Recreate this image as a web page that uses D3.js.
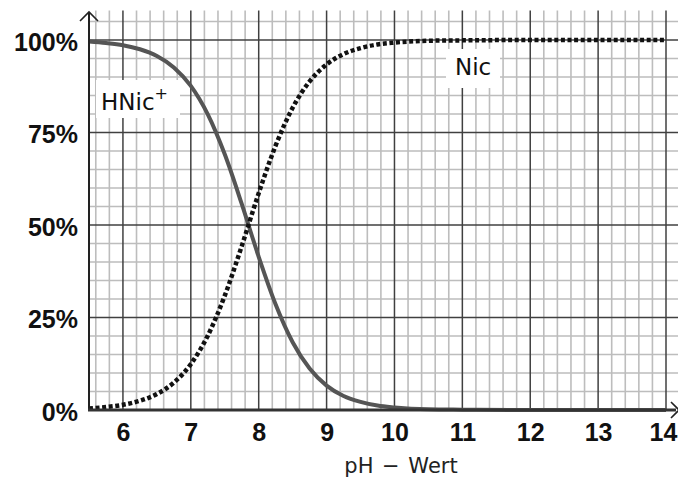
<!DOCTYPE html>
<html><head><meta charset="utf-8">
<script src="https://cdn.jsdelivr.net/npm/d3@7"></script>
<style>
html,body{margin:0;padding:0;background:#fff;}
svg{display:block;}
</style></head>
<body>
<svg id="chart" width="678" height="477"></svg>
<script>
// ---- data ----
const pHValues = [5.5,5.75,6,6.25,6.5,6.75,7,7.25,7.5,7.75,8,8.25,8.5,8.75,9,9.25,9.5,9.75,10,10.5,11,12,13,14];
const nicPercent = [0.4,0.8,1.4,2.5,4.3,7.4,12.4,20.1,30.9,44.3,58.6,71.5,81.7,88.8,93.4,96.2,97.8,98.8,99.3,99.8,99.9,100,100,100];
const hnicPercent = [99.6,99.2,98.6,97.5,95.7,92.6,87.6,79.9,69.1,55.7,41.4,28.5,18.3,11.2,6.6,3.8,2.2,1.2,0.7,0.2,0.1,0,0,0];
const xTickValues = [6,7,8,9,10,11,12,13,14];
const yTickValues = [0,25,50,75,100];
const xTitle = "pH \u2212 Wert";
const seriesLabels = ["HNic", "Nic"];

const svg = d3.select("#chart");
const x = d3.scaleLinear().domain([5.5,14]).range([89,666]);
const y = d3.scaleLinear().domain([0,100]).range([410,40]);

// grid
const minorX = d3.range(56,141,2).map(d=>d/10).filter(d=>Math.abs(d-Math.round(d))>1e-6);
const minorY = d3.range(5,106,5).filter(d=>d%25!==0);
const g = svg.append("g");
g.selectAll(".mx").data(minorX).enter().append("line")
  .attr("x1",d=>x(d)).attr("x2",d=>x(d)).attr("y1",y(108)).attr("y2",y(0))
  .attr("stroke","#bdbdbd").attr("stroke-width",1.6);
g.selectAll(".my").data(minorY).enter().append("line")
  .attr("x1",x(5.5)).attr("x2",678).attr("y1",d=>y(d)).attr("y2",d=>y(d))
  .attr("stroke","#bdbdbd").attr("stroke-width",1.6);
g.selectAll(".MX").data(xTickValues).enter().append("line")
  .attr("x1",d=>x(d)).attr("x2",d=>x(d)).attr("y1",y(108)).attr("y2",y(0))
  .attr("stroke","#404040").attr("stroke-width",1.5);
g.selectAll(".MY").data(yTickValues.filter(d=>d>0)).enter().append("line")
  .attr("x1",x(5.5)).attr("x2",678).attr("y1",d=>y(d)).attr("y2",d=>y(d))
  .attr("stroke","#404040").attr("stroke-width",1.5);

// labels with white boxes
svg.append("rect").attr("x",96).attr("y",80).attr("width",84).attr("height",38).attr("fill","#fff");
svg.append("rect").attr("x",446).attr("y",49).attr("width",54).attr("height",39).attr("fill","#fff");
const lab1 = svg.append("text").attr("x",101).attr("y",110)
  .style("font-family","'DejaVu Sans'").style("font-size","23px").attr("fill","#111")
  .text(seriesLabels[0]);
lab1.append("tspan").attr("dy",-11).style("font-size","16px").text("+");
svg.append("text").attr("x",455).attr("y",75)
  .style("font-family","'DejaVu Sans'").style("font-size","23px").attr("fill","#111")
  .text(seriesLabels[1]);

// curves
const lineH = d3.line().x((d,i)=>x(pHValues[i])).y(d=>y(d)).curve(d3.curveMonotoneX);
svg.append("path").datum(hnicPercent).attr("d",lineH)
  .attr("fill","none").attr("stroke","#555").attr("stroke-width",4);
svg.append("path").datum(nicPercent).attr("d",lineH)
  .attr("fill","none").attr("stroke","#111").attr("stroke-width",4.5)
  .attr("stroke-dasharray","4,2.6");

// axes
const xAxis = d3.axisBottom(x).tickValues(xTickValues).tickSize(0).tickPadding(13).tickFormat(d3.format("d"));
const ax = svg.append("g").attr("transform",`translate(0,${y(0)})`).call(xAxis);
ax.select(".domain").remove();
ax.selectAll("text").style("font-family","'Liberation Sans',Arial,sans-serif")
  .style("font-size","25px").style("font-weight","bold").attr("fill","#111");
ax.selectAll("text").filter(d=>d===14).attr("dx",-3);

const yAxis = d3.axisLeft(y).tickValues(yTickValues).tickSize(0).tickPadding(11).tickFormat(d=>d+"%");
const ay = svg.append("g").attr("transform",`translate(${x(5.5)},0)`).call(yAxis);
ay.select(".domain").remove();
ay.selectAll("text").style("font-family","'Liberation Sans',Arial,sans-serif")
  .style("font-size","25px").style("font-weight","bold").attr("fill","#111").attr("dy","0.4em");

// axis lines with arrows
svg.append("line").attr("x1",x(5.5)).attr("x2",x(5.5)).attr("y1",y(0)+1).attr("y2",12)
  .attr("stroke","#222").attr("stroke-width",2);
svg.append("path").attr("d",`M${x(5.5)-9},21L${x(5.5)},12L${x(5.5)+9},21`)
  .attr("fill","none").attr("stroke","#222").attr("stroke-width",1.6);
svg.append("line").attr("x1",x(5.5)-1).attr("x2",676).attr("y1",y(0)).attr("y2",y(0))
  .attr("stroke","#333").attr("stroke-width",3);
svg.append("path").attr("d",`M671,402L679,410L671,418`)
  .attr("fill","none").attr("stroke","#222").attr("stroke-width",1.6);

// x title
svg.append("text").attr("x",401).attr("y",473).attr("text-anchor","middle")
  .style("font-family","'DejaVu Sans'").style("font-size","21px").style("word-spacing","2px")
  .attr("fill","#222").text(xTitle);
</script>
</body></html>
